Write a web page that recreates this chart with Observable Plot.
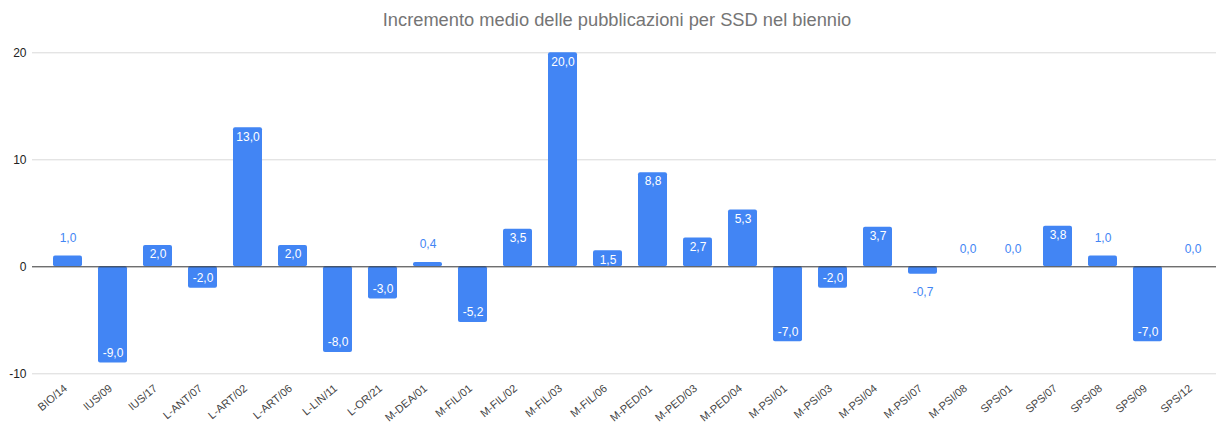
<!DOCTYPE html>
<html>
<head>
<meta charset="utf-8">
<script src="https://cdn.jsdelivr.net/npm/d3@7"></script>
<script src="https://cdn.jsdelivr.net/npm/@observablehq/plot@0.6"></script>
<style>
  body { margin: 0; background: #fff; font-family: "Liberation Sans", Arial, sans-serif; overflow: hidden; }
  #title { height: 40px; box-sizing: border-box; padding-top: 9px; text-align: center; font-size: 18.3px; color: #757575; padding-left: 18px; }
</style>
</head>
<body>
<div id="title">Incremento medio delle pubblicazioni per SSD nel biennio</div>
<div id="chart"></div>
<script>
const ssd = ["BIO/14","IUS/09","IUS/17","L-ANT/07","L-ART/02","L-ART/06","L-LIN/11","L-OR/21","M-DEA/01","M-FIL/01","M-FIL/02","M-FIL/03","M-FIL/06","M-PED/01","M-PED/03","M-PED/04","M-PSI/01","M-PSI/03","M-PSI/04","M-PSI/07","M-PSI/08","SPS/01","SPS/07","SPS/08","SPS/09","SPS/12"];
const values = [1.0,-9.0,2.0,-2.0,13.0,2.0,-8.0,-3.0,0.4,-5.2,3.5,20.0,1.5,8.8,2.7,5.3,-7.0,-2.0,3.7,-0.7,0.0,0.0,3.8,1.0,-7.0,0.0];
const yTicks = [-10, 0, 10, 20];

const data = ssd.map((s, i) => ({ssd: s, val: values[i]}));
const fmt = v => v.toFixed(1).replace(".", ",");
const blue = "#4285F4";
const insidePos = data.filter(d => d.val >= 1.5);
const insideNeg = data.filter(d => d.val <= -1.5);
const outsidePos = data.filter(d => d.val >= 0 && d.val < 1.5);
const outsideNeg = data.filter(d => d.val < 0 && d.val > -1.5);

const chart = Plot.plot({
  width: 1216,
  height: 383,
  marginTop: 12,
  marginBottom: 50,
  marginLeft: 32,
  marginRight: 0,
  style: {fontFamily: "Liberation Sans, Arial, sans-serif", background: "#fff", overflow: "visible"},
  x: {domain: ssd, range: [40.3, 1220], paddingInner: 0.36, paddingOuter: 0.18, axis: null},
  y: {domain: [-10, 20], range: [333.3, 12.3], axis: null},
  marks: [
    Plot.ruleY([-10, 10, 20], {stroke: "#d9d9d9", strokeWidth: 1}),
    Plot.barY(data, {x: "ssd", y: "val", fill: blue, rx: 2}),
    Plot.ruleY([0], {stroke: "#333", strokeWidth: 1}),
    Plot.axisY({ticks: yTicks, tickSize: 0, tickPadding: 6, fontSize: 12, color: "#222", tickFormat: d => String(d), anchor: "left", label: null}),
    Plot.text(insidePos, {x: "ssd", y: "val", text: d => fmt(d.val), dy: 9, fill: "white", fontSize: 12}),
    Plot.text(insideNeg, {x: "ssd", y: "val", text: d => fmt(d.val), dy: -10, fill: "white", fontSize: 12}),
    Plot.text(outsidePos, {x: "ssd", y: "val", text: d => fmt(d.val), dy: -18, fill: blue, fontSize: 12}),
    Plot.text(outsideNeg, {x: "ssd", y: "val", text: d => fmt(d.val), dy: 18, fill: blue, fontSize: 12}),
    Plot.text(ssd, {x: d => d, frameAnchor: "bottom", text: d => d, rotate: -40, textAnchor: "end", lineAnchor: "bottom", dx: 0, dy: 16, fontSize: 11, fill: "#444"})
  ]
});
document.getElementById("chart").appendChild(chart);
</script>
</body>
</html>
